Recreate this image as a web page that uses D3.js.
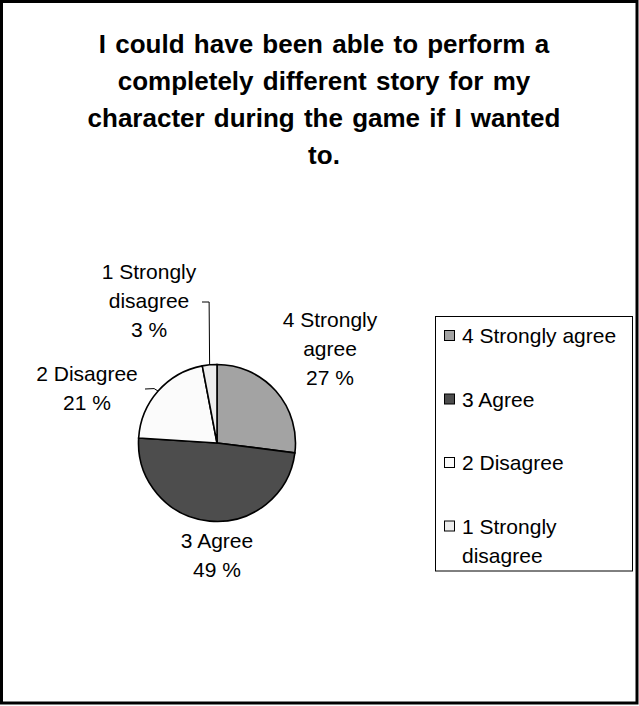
<!DOCTYPE html>
<html>
<head>
<meta charset="utf-8">
<script src="https://cdn.jsdelivr.net/npm/d3@7"></script>
<style>
  html, body { margin: 0; padding: 0; background: #fff; }
  svg text { font-family: "Liberation Sans", Arial, Helvetica, sans-serif; fill: #000; }
</style>
</head>
<body>
<svg id="chart" width="639" height="706"></svg>
<script>
// chart data
var titleLines = ["I could have been able to perform a", "completely different story for my", "character during the game if I wanted", "to."];
var categories = ["4 Strongly agree", "3 Agree", "2 Disagree", "1 Strongly disagree"];
var percents = [27, 49, 21, 3];
var sliceColors = ["#a3a3a3", "#4d4d4d", "#fbfbfb", "#ededed"];
// how the labels wrap
var pieLabelLines = [["4 Strongly", "agree"], ["3 Agree"], ["2 Disagree"], ["1 Strongly", "disagree"]];
var legendLines = [["4 Strongly agree"], ["3 Agree"], ["2 Disagree"], ["1 Strongly", "disagree"]];

var svg = d3.select("#chart");

// outer frame
svg.append("rect")
    .attr("x", 1.5).attr("y", 1.5)
    .attr("width", 635.5).attr("height", 701.5)
    .attr("fill", "#fff").attr("stroke", "#000").attr("stroke-width", 3);

// title
svg.append("g").selectAll("text")
    .data(titleLines)
    .join("text")
    .attr("x", 324)
    .attr("y", function(d, i) { return 53 + i * 37; })
    .attr("text-anchor", "middle")
    .attr("font-size", 26)
    .attr("font-weight", "bold")
    .attr("word-spacing", 2)
    .text(function(d) { return d; });

// pie
var cx = 217, cy = 443, radius = 78.5;
var data = categories.map(function(c, i) {
    return {name: c, value: percents[i], color: sliceColors[i], lines: pieLabelLines[i]};
});

var pie = d3.pie().sort(null).value(function(d) { return d.value; });
var arcs = pie(data);
var arc = d3.arc().innerRadius(0).outerRadius(radius);

var g = svg.append("g").attr("transform", "translate(" + cx + "," + cy + ")");
g.selectAll("path")
    .data(arcs)
    .join("path")
    .attr("d", arc)
    .attr("fill", function(d) { return d.data.color; })
    .attr("stroke", "#000")
    .attr("stroke-width", 1.6);

// label placement (offset from the pie centre, first baseline)
var labelPos = {
    "4 Strongly agree": [113, -116],
    "3 Agree": [0, 105],
    "2 Disagree": [-130, -62],
    "1 Strongly disagree": [-68, -164]
};

var labels = g.append("g");
arcs.forEach(function(a) {
    var p = labelPos[a.data.name];
    var lines = a.data.lines.concat([a.data.value + " %"]);
    labels.append("text")
        .attr("text-anchor", "middle")
        .attr("font-size", 21)
        .selectAll("tspan")
        .data(lines)
        .join("tspan")
        .attr("x", p[0])
        .attr("y", function(d, i) { return p[1] + i * 29; })
        .text(function(d) { return d; });
});

// leader lines for the small slices
function edgePoint(a) {
    var m = (a.startAngle + a.endAngle) / 2;
    return [radius * Math.sin(m), -radius * Math.cos(m)];
}
var leaders = {
    "1 Strongly disagree": function(e) { return [e, [e[0] - 0.5, -141], [-15, -141]]; },
    "2 Disagree": function(e) { return [e, [e[0] - 4, e[1] - 2.5], [-72, -54]]; }
};
arcs.forEach(function(a) {
    if (!leaders[a.data.name]) return;
    var pts = leaders[a.data.name](edgePoint(a));
    g.append("path")
        .attr("d", d3.line()(pts))
        .attr("fill", "none")
        .attr("stroke", "#000")
        .attr("stroke-width", 1);
});

// legend
var legend = svg.append("g");
legend.append("rect")
    .attr("x", 435.5).attr("y", 316.5)
    .attr("width", 197).attr("height", 254.5)
    .attr("fill", "#fff").attr("stroke", "#000").attr("stroke-width", 1);

var items = legend.selectAll("g.item")
    .data(data)
    .join("g")
    .attr("class", "item")
    .attr("transform", function(d, i) { return "translate(0," + (343 + i * 63.5) + ")"; });

items.append("rect")
    .attr("x", 444.5).attr("y", -12.5)
    .attr("width", 10).attr("height", 10)
    .attr("fill", function(d) { return d.color; })
    .attr("stroke", "#000").attr("stroke-width", 1);

items.append("text")
    .attr("font-size", 21)
    .selectAll("tspan")
    .data(function(d, i) { return legendLines[i]; })
    .join("tspan")
    .attr("x", 462)
    .attr("y", function(d, i) { return i * 29; })
    .text(function(d) { return d; });
</script>
</body>
</html>
